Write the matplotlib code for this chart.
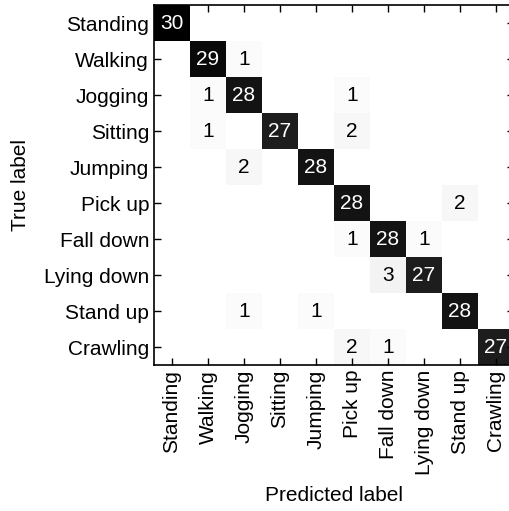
import numpy as np
import matplotlib
matplotlib.use("Agg")
import matplotlib.pyplot as plt

classes = ["Standing", "Walking", "Jogging", "Sitting", "Jumping",
           "Pick up", "Fall down", "Lying down", "Stand up", "Crawling"]

row_standing = [30, 0, 0, 0, 0, 0, 0, 0, 0, 0]
row_walking = [0, 29, 1, 0, 0, 0, 0, 0, 0, 0]
row_jogging = [0, 1, 28, 0, 0, 1, 0, 0, 0, 0]
row_sitting = [0, 1, 0, 27, 0, 2, 0, 0, 0, 0]
row_jumping = [0, 0, 2, 0, 28, 0, 0, 0, 0, 0]
row_pickup = [0, 0, 0, 0, 0, 28, 0, 0, 2, 0]
row_falldown = [0, 0, 0, 0, 0, 1, 28, 1, 0, 0]
row_lyingdown = [0, 0, 0, 0, 0, 0, 3, 27, 0, 0]
row_standup = [0, 0, 1, 0, 1, 0, 0, 0, 28, 0]
row_crawling = [0, 0, 0, 0, 0, 2, 1, 0, 0, 27]

cm = np.array([row_standing, row_walking, row_jogging, row_sitting, row_jumping,
               row_pickup, row_falldown, row_lyingdown, row_standup, row_crawling])

plt.rcParams['font.family'] = ['Liberation Sans', 'DejaVu Sans']
FS = 15

fig = plt.figure(figsize=(5.09, 5.11), dpi=100)
ax = fig.add_axes([154/509, (511-365)/511, 360/509, 360/511])
ax.imshow(cm, cmap='Greys', vmin=0, vmax=30, interpolation='nearest', aspect='auto')

for i in range(cm.shape[0]):
    for j in range(cm.shape[1]):
        v = cm[i, j]
        if v > 0:
            ax.text(j, i, str(v), ha='center', va='center', fontsize=FS,
                    color='white' if v > 15 else 'black')

ax.set_xticks(range(len(classes)))
ax.set_yticks(range(len(classes)))
ax.set_xticklabels(classes, rotation=90, fontsize=FS)
ax.set_yticklabels(classes, fontsize=FS)
ax.tick_params(direction='in', top=True, right=True, length=5, width=1)
ax.set_xlabel("Predicted label", fontsize=FS, va='center')
ax.set_ylabel("True label", fontsize=FS, va='center')
ax.xaxis.set_label_coords((334 - 154) / 360, (365 - 495) / 360)
ax.yaxis.set_label_coords((21 - 154) / 360, 0.5)
for s in ax.spines.values():
    s.set_linewidth(1.2)

fig.savefig("out.png", dpi=100)
